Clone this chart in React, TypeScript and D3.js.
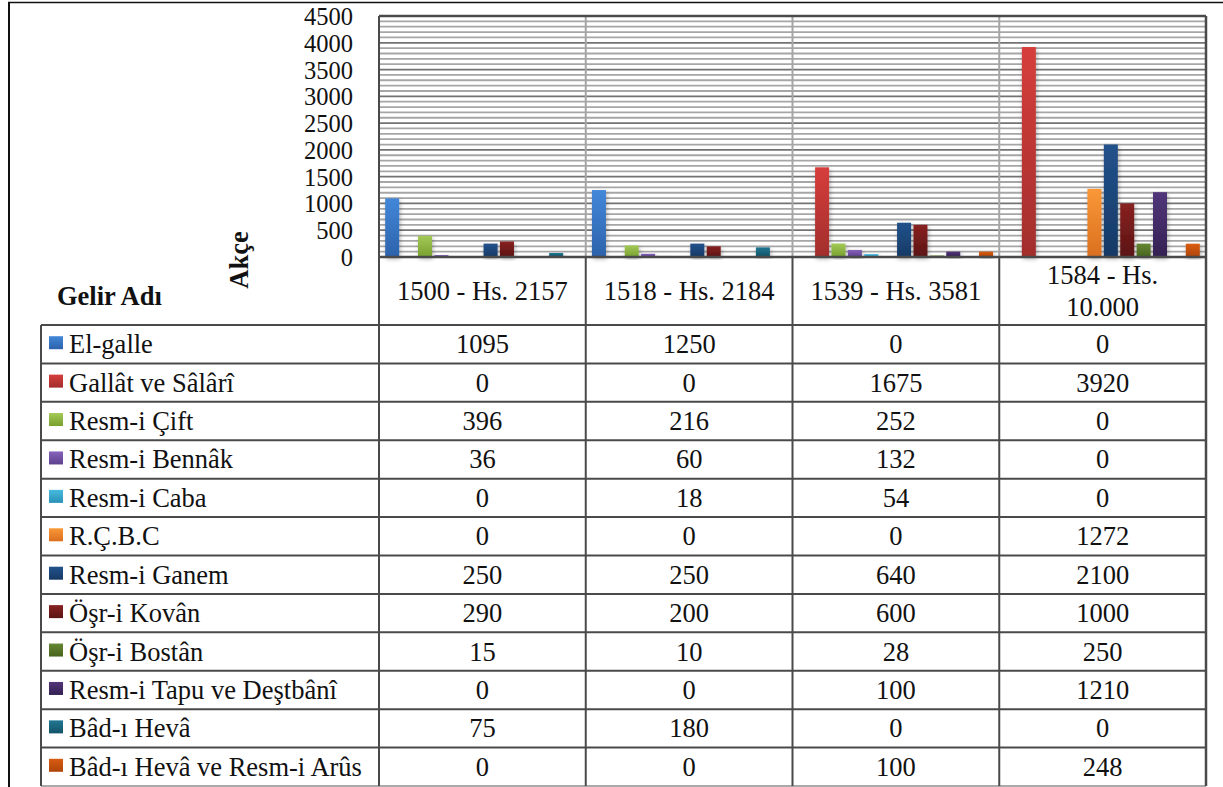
import React, { useEffect, useRef } from "react";
import * as d3 from "d3";

// periods (columns)
const categories = ["1500 - Hs. 2157", "1518 - Hs. 2184", "1539 - Hs. 3581", "1584 - Hs. 10.000"];
const headerLines = [["1500 - Hs. 2157"], ["1518 - Hs. 2184"], ["1539 - Hs. 3581"], ["1584 - Hs.", "10.000"]];

// revenue names (series)
const series = [
  "El-galle",
  "Gallât ve Sâlârî",
  "Resm-i Çift",
  "Resm-i Bennâk",
  "Resm-i Caba",
  "R.Ç.B.C",
  "Resm-i Ganem",
  "Öşr-i Kovân",
  "Öşr-i Bostân",
  "Resm-i Tapu ve Deştbânî",
  "Bâd-ı Hevâ",
  "Bâd-ı Hevâ ve Resm-i Arûs",
];

// values per series, one per period
const elGalle = [1095, 1250, 0, 0];
const gallat = [0, 0, 1675, 3920];
const resmiCift = [396, 216, 252, 0];
const resmiBennak = [36, 60, 132, 0];
const resmiCaba = [0, 18, 54, 0];
const rcbc = [0, 0, 0, 1272];
const resmiGanem = [250, 250, 640, 2100];
const osriKovan = [290, 200, 600, 1000];
const osriBostan = [15, 10, 28, 250];
const resmiTapu = [0, 0, 100, 1210];
const badiHeva = [75, 180, 0, 0];
const badiHevaArus = [0, 0, 100, 248];

const values = [elGalle, gallat, resmiCift, resmiBennak, resmiCaba, rcbc, resmiGanem, osriKovan, osriBostan, resmiTapu, badiHeva, badiHevaArus];

const yTicks = [0, 500, 1000, 1500, 2000, 2500, 3000, 3500, 4000, 4500];

// gradient top / bottom colours
const colorsTop = ["#4387d9", "#d63e3c", "#a3ca56", "#8662b9", "#47badf", "#fa9838", "#22528c", "#882121", "#668732", "#513579", "#207792", "#da5c12"];
const colorsBottom = ["#2c62ab", "#a22e2c", "#79a02f", "#5e408f", "#2991b6", "#da6f1f", "#163965", "#5b1414", "#47631e", "#342153", "#135367", "#ae450a"];

const App: React.FC = () => {
  const ref = useRef<SVGSVGElement | null>(null);

  useEffect(() => {
    const svg = d3.select(ref.current);
    svg.selectAll("*").remove();

    const font = "'Liberation Serif', 'Times New Roman', serif";
    const fs = 26.5;
    const tickFs = 24.5;

    const plot = { left: 379, right: 1206, top: 16, bottom: 257 };
    const tableTop = 325;
    const tableBottom = 786;
    const legendLeft = 41;
    const rowH = (tableBottom - tableTop) / series.length;

    const defs = svg.append("defs");
    series.forEach((_, i) => {
      const g = defs.append("linearGradient").attr("id", `grad${i}`).attr("x1", 0).attr("y1", 0).attr("x2", 0).attr("y2", 1);
      g.append("stop").attr("offset", "0%").attr("stop-color", colorsTop[i]);
      g.append("stop").attr("offset", "100%").attr("stop-color", colorsBottom[i]);
    });
    const shadow = defs.append("filter").attr("id", "shadow").attr("x", "-50%").attr("y", "-20%").attr("width", "200%").attr("height", "140%");
    shadow.append("feDropShadow").attr("dx", 1).attr("dy", 2).attr("stdDeviation", 2).attr("flood-color", "#000").attr("flood-opacity", 0.3);

    // outer frame
    svg.append("line").attr("x1", 8).attr("x2", 1223).attr("y1", 2.5).attr("y2", 2.5).attr("stroke", "#111").attr("stroke-width", 1.5);
    svg.append("line").attr("x1", 9).attr("x2", 9).attr("y1", 2).attr("y2", 787).attr("stroke", "#111").attr("stroke-width", 2);

    // scales
    const x0 = d3.scaleBand<string>().domain(categories).range([plot.left, plot.right]);
    const x1 = d3.scaleBand<string>().domain(series).range([0, x0.bandwidth()]).paddingInner(0.146).paddingOuter(0.378);
    const y = d3.scaleLinear().domain([0, 4500]).range([plot.bottom, plot.top]);

    // minor grid
    const minor = d3.range(100, 4500, 100).filter((v) => v % 500 !== 0);
    svg.append("g").selectAll("line").data(minor).enter().append("line")
      .attr("x1", plot.left).attr("x2", plot.right)
      .attr("y1", (d) => y(d)).attr("y2", (d) => y(d))
      .attr("stroke", "#a6a6a6").attr("stroke-width", 1.8);

    // major grid
    svg.append("g").selectAll("line").data(yTicks.slice(1)).enter().append("line")
      .attr("x1", plot.left).attr("x2", plot.right)
      .attr("y1", (d) => y(d)).attr("y2", (d) => y(d))
      .attr("stroke", "#737373").attr("stroke-width", 1.8);

    // vertical dividers inside plot
    svg.append("g").selectAll("line").data(categories.slice(1)).enter().append("line")
      .attr("x1", (d) => x0(d)!).attr("x2", (d) => x0(d)!)
      .attr("y1", plot.top).attr("y2", plot.bottom)
      .attr("stroke", "#a5a5a5").attr("stroke-width", 2);

    // bars
    const barData: { cat: string; s: string; i: number; v: number }[] = [];
    categories.forEach((c, ci) => {
      series.forEach((s, si) => barData.push({ cat: c, s, i: si, v: values[si][ci] }));
    });
    svg.append("g").selectAll("rect").data(barData.filter((d) => d.v > 0)).enter().append("rect")
      .attr("x", (d) => x0(d.cat)! + x1(d.s)!)
      .attr("width", x1.bandwidth())
      .attr("y", (d) => y(d.v))
      .attr("height", (d) => y(0) - y(d.v))
      .attr("fill", (d) => `url(#grad${d.i})`)
      .attr("filter", "url(#shadow)");

    // y axis labels
    svg.append("g").selectAll("text").data(yTicks).enter().append("text")
      .attr("x", 353).attr("y", (d) => y(d) + 9)
      .attr("text-anchor", "end")
      .style("font-family", font).style("font-size", `${tickFs}px`).attr("fill", "#111")
      .text((d) => d);

    svg.append("text")
      .attr("transform", `translate(248,260) rotate(-90)`)
      .attr("text-anchor", "middle")
      .style("font-family", font).style("font-size", `${fs}px`).style("font-weight", "bold").attr("fill", "#111")
      .text("Akçe");

    svg.append("text")
      .attr("x", 57).attr("y", 305)
      .style("font-family", font).style("font-size", `${fs}px`).style("font-weight", "bold").attr("fill", "#111")
      .text("Gelir Adı");

    // header cells
    categories.forEach((c, ci) => {
      const lines = headerLines[ci];
      const cx = x0(c)! + x0.bandwidth() / 2;
      const mid = (plot.bottom + tableTop) / 2;
      lines.forEach((ln, li) => {
        svg.append("text")
          .attr("x", cx).attr("y", mid + 9 + (li - (lines.length - 1) / 2) * 32)
          .attr("text-anchor", "middle")
          .style("font-family", font).style("font-size", `${fs}px`).attr("fill", "#111")
          .text(ln);
      });
    });

    // table rows
    const rows = svg.append("g").selectAll("g").data(series).enter().append("g")
      .attr("transform", (_, i) => `translate(0,${tableTop + i * rowH})`);

    rows.append("rect")
      .attr("x", 49).attr("y", rowH / 2 - 8).attr("width", 14).attr("height", 13)
      .attr("fill", (_, i) => `url(#grad${i})`);

    rows.append("text")
      .attr("x", 69).attr("y", rowH / 2 + 9)
      .style("font-family", font).style("font-size", `${fs}px`).attr("fill", "#111")
      .text((d) => d);

    categories.forEach((c, ci) => {
      rows.append("text")
        .attr("x", x0(c)! + x0.bandwidth() / 2).attr("y", rowH / 2 + 9)
        .attr("text-anchor", "middle")
        .style("font-family", font).style("font-size", `${fs}px`).attr("fill", "#111")
        .text((_, si) => values[si][ci]);
    });

    // table lines
    const grid = svg.append("g").attr("stroke", "#4a4a4a").attr("stroke-width", 2);
    d3.range(series.length + 1).forEach((i) => {
      const yy = tableTop + i * rowH;
      grid.append("line").attr("x1", legendLeft).attr("x2", plot.right).attr("y1", yy).attr("y2", yy)
        .attr("stroke", i === series.length ? "#aaa" : "#4a4a4a");
    });
    grid.append("line").attr("x1", legendLeft).attr("x2", legendLeft).attr("y1", tableTop).attr("y2", tableBottom);
    categories.slice(1).forEach((c) => {
      grid.append("line").attr("x1", x0(c)!).attr("x2", x0(c)!).attr("y1", plot.bottom).attr("y2", tableBottom);
    });
    grid.append("line").attr("x1", plot.left).attr("x2", plot.left).attr("y1", plot.top).attr("y2", tableBottom);
    grid.append("line").attr("x1", plot.right).attr("x2", plot.right).attr("y1", plot.top).attr("y2", tableBottom).attr("stroke-width", 2.5);
    grid.append("line").attr("x1", plot.left).attr("x2", plot.right).attr("y1", plot.top).attr("y2", plot.top).attr("stroke-width", 2.5);
    grid.append("line").attr("x1", plot.left).attr("x2", plot.right).attr("y1", plot.bottom).attr("y2", plot.bottom).attr("stroke-width", 2.5);
  }, []);

  return (
    <svg
      ref={ref}
      width={1223}
      height={787}
      style={{ position: "absolute", left: 0, top: 0, background: "#fff" }}
    />
  );
};

export default App;
